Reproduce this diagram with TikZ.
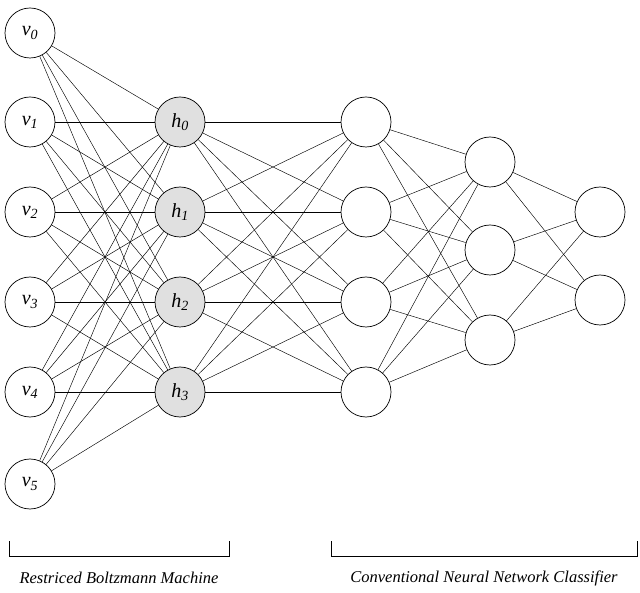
\documentclass[tikz,border=0pt]{standalone}
\usepackage{fontspec}
\setmainfont{Liberation Serif}
\begin{document}
\begin{tikzpicture}[x=1pt,y=-1pt,
  neuron/.style={circle,draw,line width=0.7pt,minimum size=50pt,inner sep=0pt,font=\itshape\fontsize{20}{20}\selectfont},
  hid/.style={neuron,fill=black!12},
  conn/.style={line width=0.45pt}]
\useasboundingbox (0,0) rectangle (640,593);
\foreach \i/\y in {0/33,1/122,2/212,3/302,4/392,5/484}
  \node[neuron] (v\i) at (30,\y) {$\mathit{v}_{\mathit{\i}}$};
\foreach \i/\y in {0/122,1/212,2/302,3/392}
  \node[hid] (h\i) at (180,\y) {$\mathit{h}_{\mathit{\i}}$};
\foreach \i/\y in {0/122,1/212,2/302,3/392}
  \node[neuron] (a\i) at (366,\y) {};
\foreach \i/\y in {0/162,1/250,2/340}
  \node[neuron] (b\i) at (490,\y) {};
\foreach \i/\y in {0/212,1/300}
  \node[neuron] (c\i) at (600,\y) {};
\foreach \i in {0,...,5} \foreach \j in {0,...,3} \draw[conn] (v\i) -- (h\j);
\foreach \i in {0,...,3} \foreach \j in {0,...,3} \draw[conn] (h\i) -- (a\j);
\foreach \i in {0,...,3} \foreach \j in {0,...,2} \draw[conn] (a\i) -- (b\j);
\foreach \i in {0,...,2} \foreach \j in {0,...,1} \draw[conn] (b\i) -- (c\j);
\coordinate (l1) at (9,541); \coordinate (l2) at (229,541);
\coordinate (r1) at (331,541); \coordinate (r2) at (637,541);
\draw[line width=0.7pt] (l1) -- ++(0,15) -| (l2);
\draw[line width=0.7pt] (r1) -- ++(0,15) -| (r2);
\node[font=\itshape\fontsize{16.5}{16.5}\selectfont] (t1) at (119,578) {Restriced Boltzmann Machine};
\node[font=\itshape\fontsize{16.5}{16.5}\selectfont] (t2) at (484,578) {Conventional Neural Network Classifier};
\end{tikzpicture}
\end{document}
